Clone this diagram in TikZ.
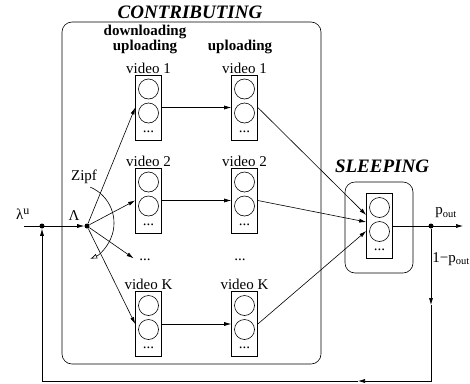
\documentclass[tikz,border=0pt]{standalone}
\usepackage{fontspec}
\setmainfont{Liberation Serif}
\usetikzlibrary{arrows.meta}

\tikzset{
  qbox/.style={draw, minimum width=26pt, minimum height=65pt, inner sep=0pt},
  vlab/.style={font=\fontsize{15}{15}\selectfont, inner sep=1pt},
  hdr/.style={font=\fontsize{15}{15}\selectfont\bfseries, inner sep=0pt},
  state/.style={font=\fontsize{19}{19}\selectfont\bfseries\itshape, inner sep=0pt},
  dot/.style={circle, fill, inner sep=0pt, minimum size=5pt},
  arr/.style={-{Latex[length=7pt,width=4pt]}},
}

% a queue: name, position, options
\newcommand{\vqueue}[3]{%
  \node[qbox, #3] (#1) at (#2) {};
  \draw ([yshift=18.5pt]#1.center) circle (10);
  \draw ([yshift=-5.5pt]#1.center) circle (10);
  \node[vlab] at ([yshift=-24pt]#1.center) {...};
}

\begin{document}
\begin{tikzpicture}[x=1pt, y=-1pt, line width=0.6pt]
  \useasboundingbox (0,0) rectangle (470,383);
  % contributing
  \draw[rounded corners=10pt] (62,22) rectangle (321,364);
  \node[state] at (190,12) {CONTRIBUTING};
  \node[hdr, align=center] at (145,39) {downloading\\uploading};
  \node[hdr] at (240,47) {uploading};
  \vqueue{qa1}{148.5,107.5}{label={[vlab]above:video 1}}
  \vqueue{qa2}{148.5,200.5}{label={[vlab]above:video 2}}
  \vqueue{qaK}{148.5,324}{label={[vlab]above:video K}}
  \vqueue{qb1}{244.5,107.5}{label={[vlab]above:video 1}}
  \vqueue{qb2}{244.5,200.5}{label={[vlab]above:video 2}}
  \vqueue{qbK}{244.5,324}{label={[vlab]above:video K}}
  \node[vlab, inner sep=3pt] (dotsA) at (145,260) {...};
  \node[vlab, inner sep=3pt] (dotsB) at (240,260) {...};
  % sleeping
  \draw[rounded corners=10pt] (345,182) rectangle (413,273);
  \node[state] at (382,166) {SLEEPING};
  \vqueue{qs}{379.5,226}{}
  % arrivals
  \coordinate (start) at (24,226);
  \node[dot] (indot) at (42,226) {};
  \node[dot] (lam) at (87,226) {};
  \node[vlab] at (23,214) {λ\textsuperscript{\large u}};
  \node[vlab] at (74,216) {Λ};
  \draw[arr] (start) -- (lam);
  \draw[arr] (lam) -- (qa1.west);
  \draw[arr] (lam) -- (qa2.west);
  \draw[arr, shorten >=3pt] (lam) -- (dotsA.west);
  \draw[arr] (lam) -- (qaK.west);
  \draw[-{Latex[open,length=7pt,width=5pt]}] (75,223) ++(-67:39) arc (-67:67:39);
  \node[vlab] at (84,177) {Zipf};
  % between columns
  \draw[arr] (qa1) -- (qb1);
  \draw[arr] (qa2) -- (qb2);
  \draw[arr] (qaK) -- (qbK);
  \draw[arr] (qb1.east) -- ([yshift=11pt]qs.west);
  \draw[arr] (qb2.east) -- ([yshift=4pt]qs.west);
  \draw[arr] (qbK.east) -- ([yshift=-5pt]qs.west);
  % output and feedback
  \coordinate (outend) at (463,226);
  \node[dot] (outdot) at (431,226) {};
  \draw[arr] (qs) -- (outend);
  \node[vlab] at (446,213) {p\textsubscript{out}};
  \node[vlab] at (451,259) {1−p\textsubscript{out}};
  \coordinate (fbA) at (431,305);
  \coordinate (fbB) at (431,381);
  \coordinate (fbC) at (358,381);
  \coordinate (fbD) at (42,381);
  \draw[arr] (outdot) -- (fbA);
  \draw[arr] (fbA) -- (fbB) -- (fbC);
  \draw[arr] (fbC) -- (fbD) -- (indot);
\end{tikzpicture}
\end{document}
